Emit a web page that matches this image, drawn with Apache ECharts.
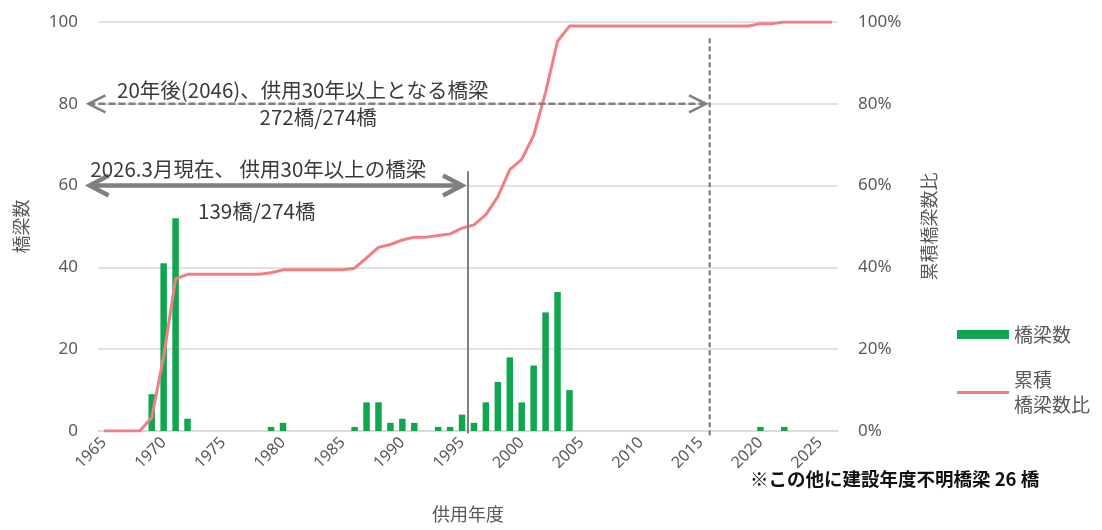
<!DOCTYPE html>
<html>
<head>
<meta charset="utf-8">
<script src="https://cdn.jsdelivr.net/npm/echarts@6/dist/echarts.min.js"></script>
<style>
html,body{margin:0;padding:0;background:#fff;}
#chart{width:1102px;height:530px;}
</style>
</head>
<body>
<div id="chart"></div>
<script>
// ---- data ----
const years = [];
for (let y = 1965; y <= 2026; y++) years.push(String(y));

// bridge counts per year (1965..2026)
const bridgeCounts = [
  0, 0, 0, 0, 9, 41, 52, 3, 0, 0,      // 1965-1974
  0, 0, 0, 0, 1, 2, 0, 0, 0, 0,        // 1975-1984
  0, 1, 7, 7, 2, 3, 2, 0, 1, 1,        // 1985-1994
  4, 2, 7, 12, 18, 7, 16, 29, 34, 10,  // 1995-2004
  0, 0, 0, 0, 0, 0, 0, 0, 0, 0,        // 2005-2014
  0, 0, 0, 0, 0, 1, 0, 1, 0, 0,        // 2015-2024
  0, 0                                 // 2025-2026
];

// cumulative share (%)
const cumulativePct = [
  0, 0, 0, 0, 3.3, 18.2, 37.2, 38.3, 38.3, 38.3,
  38.3, 38.3, 38.3, 38.3, 38.7, 39.4, 39.4, 39.4, 39.4, 39.4,
  39.4, 39.8, 42.3, 44.9, 45.6, 46.7, 47.4, 47.4, 47.8, 48.2,
  49.6, 50.4, 52.9, 57.3, 63.9, 66.4, 72.3, 82.8, 95.3, 99.0,
  99.0, 99.0, 99.0, 99.0, 99.0, 99.0, 99.0, 99.0, 99.0, 99.0,
  99.0, 99.0, 99.0, 99.0, 99.0, 99.6, 99.6, 100, 100, 100,
  100, 100
];

const leftTicks = [0, 20, 40, 60, 80, 100];
const rightTicks = [0, 20, 40, 60, 80, 100];

const barName = '橋梁数';
const lineName = '累積橋梁数比';
const footnote = '※この他に建設年度不明橋梁 26 橋';

// annotations in data space (x = year, y = left axis value)
const annotations = [
  {kind: 'arrow', from: [1963.8, 60], to: [1995.0, 60], dashed: false, width: 4.5},
  {kind: 'arrow', from: [1963.7, 80], to: [2015.45, 80], dashed: true, width: 2.5},
  {kind: 'vline', x: 1995.5, y1: 63.5, y2: -0.6, dashed: false, width: 2},
  {kind: 'vline', x: 2015.75, y1: 96, y2: -1.5, dashed: true, width: 2.2},
  {kind: 'text', at: [1966.1, 83.4], align: 'left', text: '20年後(2046)、供用30年以上となる橋梁'},
  {kind: 'text', at: [1982.95, 76.8], align: 'center', text: '272橋/274橋'},
  {kind: 'text', at: [1963.86, 64.1], align: 'left', text: '2026.3月現在、 供用30年以上の橋梁'},
  {kind: 'text', at: [1977.8, 53.8], align: 'center', text: '139橋/274橋'}
];

// ---- chart ----
const CJK = '"Noto Sans CJK JP", "Noto Sans", sans-serif';
const NUM = '"Noto Sans", "Open Sans", sans-serif';
const gray = '#7f7f7f';
const labelGray = '#595959';
const gridGray = '#d9d9d9';

function renderAnnot(params, api) {
  const a = annotations[params.dataIndex];
  if (a.kind === 'arrow') {
    const p1 = api.coord(a.from), p2 = api.coord(a.to);
    const dx = p2[0] - p1[0], dy = p2[1] - p1[1];
    const len = Math.hypot(dx, dy) || 1;
    const ux = dx / len, uy = dy / len, nx = -uy, ny = ux;
    const L = a.dashed ? 17 : 19, W = a.dashed ? 8.5 : 10;
    const head = (tip, s) => [
      [tip[0] - s * ux * L + nx * W, tip[1] - s * uy * L + ny * W],
      [tip[0], tip[1]],
      [tip[0] - s * ux * L - nx * W, tip[1] - s * uy * L - ny * W]
    ];
    const st = {stroke: gray, lineWidth: a.width, fill: null, lineDash: a.dashed ? [7, 3] : null, lineCap: 'butt', lineJoin: 'miter'};
    const hs = {stroke: gray, lineWidth: a.width, fill: null, lineJoin: 'miter', lineCap: 'butt'};
    return {type: 'group', children: [
      {type: 'line', shape: {x1: p1[0], y1: p1[1], x2: p2[0], y2: p2[1]}, style: st},
      {type: 'polyline', shape: {points: head(p2, 1)}, style: hs},
      {type: 'polyline', shape: {points: head(p1, -1)}, style: hs}
    ]};
  }
  if (a.kind === 'vline') {
    const p1 = api.coord([a.x, a.y1]), p2 = api.coord([a.x, a.y2]);
    return {type: 'line', shape: {x1: p1[0], y1: p1[1], x2: p2[0], y2: p2[1]},
      style: {stroke: gray, lineWidth: a.width, lineDash: a.dashed ? [5, 3] : null}};
  }
  const p = api.coord(a.at);
  return {type: 'text', x: p[0], y: p[1], style: {
    text: a.text, fill: '#3a3a3a', fontSize: 20.5, fontFamily: CJK,
    align: a.align, verticalAlign: 'middle'
  }};
}

const chart = echarts.init(document.getElementById('chart'), null, {renderer: 'canvas'});
chart.setOption({
  animation: false,
  backgroundColor: '#fff',
  grid: {left: 98, right: 264, top: 22, bottom: 99, containLabel: false},
  xAxis: [
    {
      type: 'category', data: years, boundaryGap: true,
      axisLine: {lineStyle: {color: gridGray, width: 1.5}},
      axisTick: {show: false},
      axisLabel: {interval: 4, rotate: 45, color: labelGray, fontSize: 16, fontFamily: NUM, margin: 9},
      name: '供用年度', nameLocation: 'middle', nameGap: 74,
      nameTextStyle: {color: labelGray, fontSize: 18, fontFamily: CJK}
    },
    {type: 'value', min: 1964.5, max: 2026.5, show: false}
  ],
  yAxis: [
    {
      type: 'value', min: 0, max: 100, interval: 20,
      axisLine: {show: false}, axisTick: {show: false},
      splitLine: {lineStyle: {color: gridGray, width: 1.5}},
      axisLabel: {color: labelGray, fontSize: 17, fontFamily: NUM, margin: 20,
        formatter: v => leftTicks.includes(v) ? String(v) : ''},
      name: barName, nameLocation: 'middle', nameGap: 68,
      nameTextStyle: {color: labelGray, fontSize: 18, fontFamily: CJK}
    },
    {
      type: 'value', min: 0, max: 100, interval: 20, position: 'right',
      axisLine: {show: false}, axisTick: {show: false}, splitLine: {show: false},
      axisLabel: {color: labelGray, fontSize: 17, fontFamily: NUM, margin: 20,
        formatter: v => rightTicks.includes(v) ? v + '%' : ''},
      name: lineName, nameLocation: 'middle', nameGap: 82, nameRotate: 90,
      nameTextStyle: {color: labelGray, fontSize: 18, fontFamily: CJK}
    }
  ],
  legend: [
    {
      data: [{name: barName, icon: 'rect'}],
      orient: 'vertical', left: 952, top: 320,
      itemWidth: 52, itemHeight: 9, itemGap: 8,
      textStyle: {color: labelGray, fontSize: 19, fontFamily: CJK},
      selectedMode: false
    },
    {
      data: [{name: lineName, icon: 'rect'}],
      orient: 'vertical', left: 952, top: 350,
      itemWidth: 52, itemHeight: 3, itemGap: 8,
      formatter: () => '累積\n橋梁数比',
      textStyle: {color: labelGray, fontSize: 19, lineHeight: 25, fontFamily: CJK, padding: [25, 0, 0, 0]},
      selectedMode: false
    }
  ],
  graphic: [
    {type: 'text', left: 750, top: 470, style: {text: footnote, fill: '#111', fontSize: 18.5, fontWeight: 'bold', fontFamily: CJK}}
  ],
  series: [
    {
      name: barName, type: 'bar', data: bridgeCounts, xAxisIndex: 0, yAxisIndex: 0,
      barWidth: 6.5, itemStyle: {color: '#0fa64e'}, z: 2
    },
    {
      name: lineName, type: 'line', data: cumulativePct, xAxisIndex: 0, yAxisIndex: 1,
      showSymbol: false, symbol: 'none', smooth: false,
      lineStyle: {color: '#f07f84', width: 3}, itemStyle: {color: '#f07f84'}, z: 3
    },
    {
      type: 'custom', xAxisIndex: 1, yAxisIndex: 0, clip: false, silent: true, z: 4,
      data: annotations.map(() => [1995, 50]),
      renderItem: renderAnnot
    }
  ]
});
</script>
</body>
</html>
